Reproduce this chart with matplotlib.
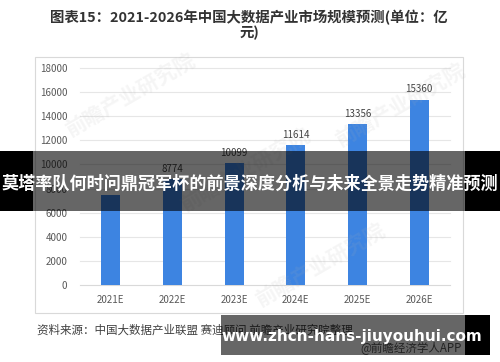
import matplotlib
matplotlib.use("Agg")
import matplotlib.pyplot as plt
from matplotlib.patches import Rectangle

plt.rcParams['font.family'] = ['Noto Sans CJK SC', 'DejaVu Sans']

categories = ['2021E', '2022E', '2023E', '2024E', '2025E', '2026E']
values = [7500, 8774, 10099, 11614, 13356, 15360]
labels = ['', '8774', '10099', '11614', '13356', '15360']
yticks = [0, 2000, 4000, 6000, 8000, 10000, 12000, 14000, 16000, 18000]
title = '图表15：2021-2026年中国大数据产业市场规模预测(单位：亿\n元)'
source = '资料来源：中国大数据产业联盟 赛迪顾问 前瞻产业研究院整理'
app = '@前瞻经济学人APP'
banner = '莫塔率队何时问鼎冠军杯的前景深度分析与未来全景走势精准预测'
url = 'www.zhcn-hans-jiuyouhui.com'
watermark = '前瞻产业研究院'

W, H = 500, 362
fig = plt.figure(figsize=(W / 100, H / 100), dpi=100)
fig.patch.set_facecolor('white')

def fx(x):
    return x / W

def fy(y):
    return 1 - y / H

# chart frame
fig.patches.append(Rectangle((fx(35), fy(313)), fx(463) - fx(35), fy(57) - fy(313),
                             transform=fig.transFigure, fill=False,
                             edgecolor='#d9d9d9', linewidth=0.8, zorder=0))

ax = fig.add_axes([fx(80), fy(285), fx(450) - fx(80), fy(68) - fy(285)])
ax.set_xlim(-0.5, len(categories) - 0.5)
ax.set_ylim(0, 18000)
for s in ax.spines.values():
    s.set_visible(False)
ax.set_yticks(yticks)
ax.set_yticklabels([str(t) for t in yticks], fontsize=7, color='#595959')
ax.set_xticks(range(len(categories)))
ax.set_xticklabels(categories, fontsize=7, color='#595959')
ax.tick_params(length=0)
ax.tick_params(axis='y', pad=9)
ax.tick_params(axis='x', pad=7)
for t in yticks:
    ax.axhline(t, color='#d9d9d9' if t == 0 else '#e6e6e6', linewidth=0.8, zorder=0, clip_on=False)
bars = ax.bar(range(len(categories)), values, width=0.31, color='#3d84e1', zorder=2)
for i, (v, lab) in enumerate(zip(values, labels)):
    if lab:
        ax.text(i, v + 450, lab, ha='center', va='bottom', fontsize=7, color='#404040')

# watermarks
for (x, y) in [(130, 95), (400, 105), (320, 265), (245, 170)]:
    fig.text(fx(x), fy(y), watermark, fontsize=15, color='#b0b0b0', alpha=0.12,
             rotation=30, ha='center', va='center', fontweight='bold')

# title
fig.text(fx(249), fy(25), title, ha='center', va='center', fontsize=10.4,
         fontweight='bold', color='#333333', linespacing=1.0)

# source
fig.text(fx(37), fy(330), source, ha='left', va='center', fontsize=8.3, color='#404040')
fig.text(fx(462), fy(348), app, ha='right', va='center', fontsize=8.3, color='#555555')

# overlay banners
fig.patches.append(Rectangle((0, fy(211)), fx(33), fy(151) - fy(211), transform=fig.transFigure,
                             facecolor='black', edgecolor='none', zorder=10))
fig.patches.append(Rectangle((fx(465), fy(211)), 1 - fx(465), fy(151) - fy(211), transform=fig.transFigure,
                             facecolor='black', edgecolor='none', zorder=10))
fig.patches.append(Rectangle((fx(33), fy(211)), fx(465) - fx(33), fy(151) - fy(211), transform=fig.transFigure,
                             facecolor='black', alpha=0.6, edgecolor='none', zorder=10))
fig.text(fx(250), fy(184), banner, ha='center', va='center', fontsize=12.3,
         fontweight='bold', color='white', zorder=11)

fig.patches.append(Rectangle((fx(221), fy(355)), fx(465) - fx(221), fy(315) - fy(355), transform=fig.transFigure,
                             facecolor='black', alpha=0.6, edgecolor='none', zorder=10))
fig.patches.append(Rectangle((fx(465), fy(355)), fx(490) - fx(465), fy(315) - fy(355), transform=fig.transFigure,
                             facecolor='black', edgecolor='none', zorder=10))
fig.text(fx(352), fy(337), url, ha='center', va='center', fontsize=11,
         fontweight='bold', color='white', zorder=11, family=['DejaVu Sans'])

fig.savefig('out.png', dpi=100)
